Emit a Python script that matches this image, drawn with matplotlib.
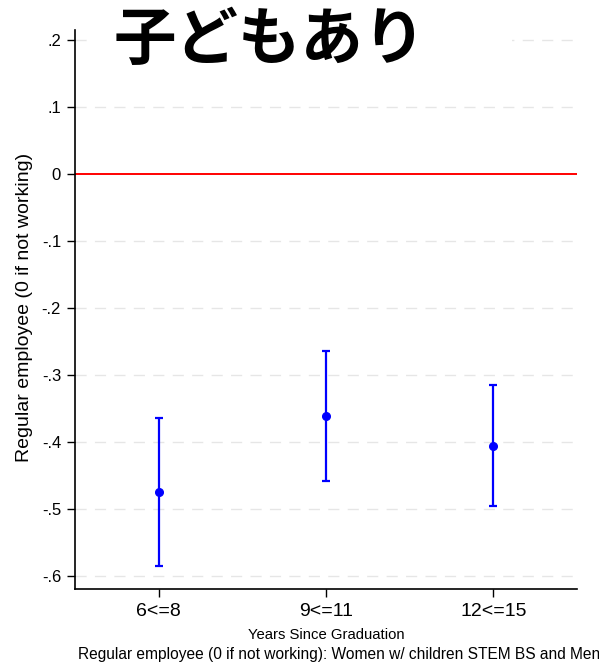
import numpy as np
import matplotlib.pyplot as plt
from matplotlib.patches import Rectangle

# 推定値と信頼区間
categories = ["6<=8", "9<=11", "12<=15"]
coef = [-0.475, -0.361, -0.406]
ci_low = [-0.585, -0.458, -0.496]
ci_high = [-0.364, -0.264, -0.315]
yticks = [0.2, 0.1, 0.0, -0.1, -0.2, -0.3, -0.4, -0.5, -0.6]
ytick_labels = [".2", ".1", "0", "-.1", "-.2", "-.3", "-.4", "-.5", "-.6"]

plt.rcParams['font.family'] = ['Liberation Sans', 'DejaVu Sans']

fig = plt.figure(figsize=(5.99, 6.71), dpi=100)
ax = fig.add_axes([75 / 599, 1 - 589 / 671, (577 - 75) / 599, (589 - 30) / 671])

x = np.arange(1, len(categories) + 1)
coef = np.array(coef)
err = [coef - np.array(ci_low), np.array(ci_high) - coef]

for y in yticks:
    if y != 0:
        ax.axhline(y, color="#e6e6e6", lw=1, ls=(0, (8, 6)), zorder=0)
ax.axhline(0, color="red", lw=1.4, zorder=1)

ax.errorbar(x, coef, yerr=err, fmt="o", color="blue", ms=5.5,
            elinewidth=1.6, capsize=3, capthick=1.6, zorder=3)

ax.set_xlim(0.5, 3.5)
ax.set_ylim(-0.6194, 0.215)
ax.set_xticks(x)
ax.set_xticklabels(categories, fontsize=14)
ax.set_yticks(yticks)
ax.set_yticklabels(ytick_labels, fontsize=12)
ax.tick_params(axis="both", length=6, width=1, pad=4)
for side in ["top", "right"]:
    ax.spines[side].set_visible(False)
for side in ["left", "bottom"]:
    ax.spines[side].set_linewidth(1.2)

ax.set_ylabel("Regular employee (0 if not working)", fontsize=14)
ax.yaxis.set_label_coords(-0.084, 0.504)
ax.set_xlabel("Years Since Graduation", fontsize=10.7, labelpad=6)

# タイトル背後の白い帯
ax.add_patch(Rectangle((0.03, 0.92), 0.84, 0.13, transform=ax.transAxes,
                       facecolor="white", edgecolor="none", zorder=4, clip_on=False))
ax.text(0.388, 0.981, "子どもあり", transform=ax.transAxes, ha="center", va="center",
        fontsize=45, fontweight="bold", family=["Noto Sans CJK JP", "DejaVu Sans"],
        zorder=5)

fig.text(78 / 599, 1 - 655 / 671,
         "Regular employee (0 if not working): Women w/ children STEM BS and Men",
         fontsize=11.2, ha="left", va="center")

fig.savefig("out.png", dpi=100)
